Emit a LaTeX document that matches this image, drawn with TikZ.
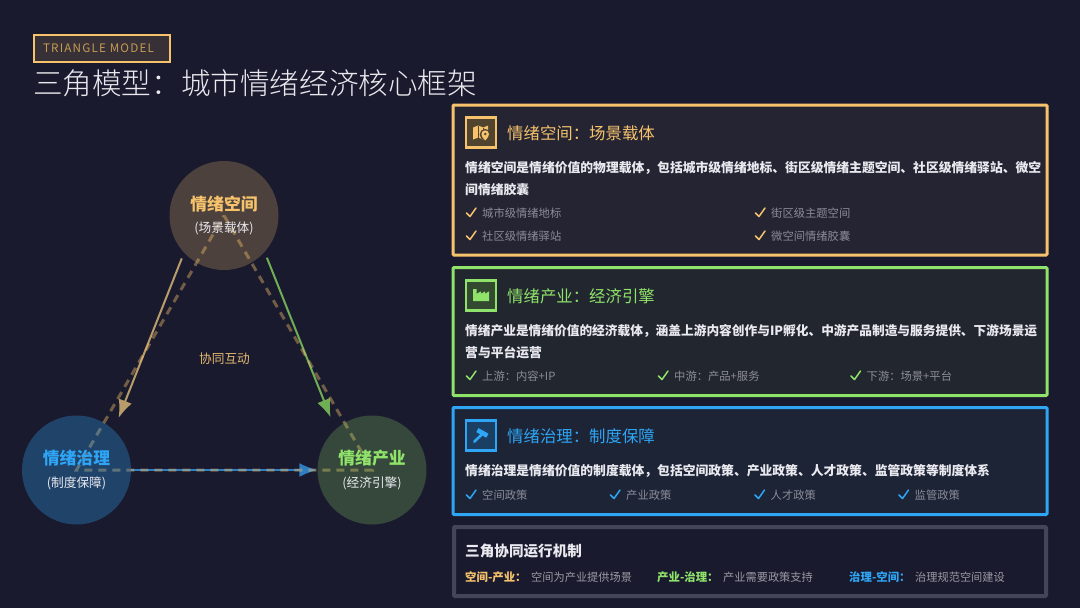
\documentclass[tikz,border=0pt]{standalone}
\usepackage{fontspec}
\usepackage{xcolor}
\usepackage{tikz}
\usetikzlibrary{arrows.meta,backgrounds}
\setmainfont{Noto Sans CJK SC}
\newfontfamily\finafont{Noto Sans CJK SC Light}
\newfontfamily\etiquetafont[LetterSpace=10]{Noto Sans CJK SC}
\definecolor{fundo}{HTML}{1A1A2E}
\definecolor{ouro}{HTML}{F6C36C}
\definecolor{verde}{HTML}{8FE36A}
\definecolor{azul}{HTML}{2EA5F5}
\definecolor{cinza}{HTML}{45455A}
\definecolor{corpo}{HTML}{E9E9EF}
\definecolor{item}{HTML}{8C8C98}
\definecolor{mecanismo}{HTML}{9A9AA4}
\definecolor{fundoA}{HTML}{252433}
\definecolor{fundoB}{HTML}{22262F}
\definecolor{fundoC}{HTML}{1C2436}
\definecolor{iconeA}{HTML}{50442F}
\definecolor{iconeB}{HTML}{334A30}
\definecolor{iconeC}{HTML}{1B3F63}
\definecolor{setaA}{HTML}{B89C6A}
\definecolor{setaB}{HTML}{6FAE55}
\definecolor{setaC}{HTML}{2F7FC0}

\begin{document}
\begin{tikzpicture}[
    x=1pt,y=-1pt,
    hub/.style={circle,minimum size=109pt,inner sep=0pt,align=center,text opacity=1},
    seta/.style={-{Latex[length=18pt,width=14pt]},line width=2pt},
    card/.style={draw,rounded corners=1pt},
    icone/.style={draw,line width=2.5pt,minimum size=30pt,inner sep=0pt},
    rotulo/.style={anchor=west,inner sep=0pt},
    titulo/.style={rotulo,font=\fontsize{16.4}{20}\selectfont},
    texto/.style={rotulo,font=\bfseries\fontsize{12.8}{22}\selectfont,text=corpo,align=left},
    itemtxt/.style={rotulo,font=\fontsize{11.3}{14}\selectfont,text=item},
    mectxt/.style={rotulo,font=\fontsize{11.2}{14}\selectfont,text=mecanismo},
    mecnome/.style={rotulo,font=\bfseries\fontsize{11.4}{14}\selectfont},
    marca/.style={line width=1.5pt,line cap=round,line join=round}
]
\useasboundingbox (0,0) rectangle (1080,608);

%------------------------------------------------
% Cabecalho
%------------------------------------------------
\node[draw=ouro,fill=ouro!13!fundo,line width=2pt,minimum width=136pt,minimum height=27pt,inner sep=0pt,
    text=ouro!80!black,font=\etiquetafont\fontsize{11.7}{14}\selectfont] (etiqueta) at (102,48) {\hspace*{-7pt}TRIANGLE MODEL};
\node[rotulo,text=corpo,font=\finafont\fontsize{29.6}{34}\selectfont] (titulo) at (33,83) {三角模型：城市情绪经济核心框架};

%------------------------------------------------
% Triangulo
%------------------------------------------------
\foreach \x/\y/\nome/\cor/\op/\txt/\sub in {
224/215.5/espaco/ouro/.23/情绪空间/(场景载体),
76.5/470/governo/azul/.3/情绪治理/(制度保障),
372/470/industria/verde/.23/情绪产业/(经济引擎)}
{
    \node[hub,fill=\cor,fill opacity=\op] (\nome) at (\x,\y)
    {\textcolor{\cor}{\bfseries\fontsize{16.8}{20}\selectfont \txt}\\[9pt]
     \textcolor{corpo}{\fontsize{12.7}{14}\selectfont \sub}};
}

\begin{scope}[on background layer]
    \fill[fundo] (0,0) rectangle (1080,608);

    % setas
    \draw[seta,draw=setaA,fill=setaA,shorten <=6pt,shorten >=13pt]
    (espaco.223.3) -- (governo.47.2);
    \draw[seta,draw=setaB,fill=setaB,shorten <=6pt,shorten >=13pt]
    (espaco.-42.9) -- (industria.132.3);
    \draw[seta,draw=setaC,fill=setaC]
    (governo.east) -- (industria.west);

    % tracejado
    \draw[ouro,opacity=.4,line width=3pt,dash pattern=on 8pt off 6pt]
    (espaco.center) -- (industria.center) -- (governo.center) -- (espaco.center);
\end{scope}

\node[inner sep=0pt,text=ouro!85!gray,font=\fontsize{12.7}{15}\selectfont] (interacao) at (224.5,359) {协同互动};

%------------------------------------------------
% Cartoes
%------------------------------------------------
\foreach \y/\alt/\larg/\lw/\nome/\cor/\preench in {
180/150/594/3/cartaoA/ouro/fundoA,
331.5/128/594/3/cartaoB/verde/fundoB,
461/107/594/3/cartaoC/azul/fundoC,
561.5/69/592/4/cartaoD/cinza/fundo}
{
    \node[card,draw=\cor,fill=\preench,line width=\lw pt,minimum width=\larg pt,minimum height=\alt pt] (\nome) at (750,\y) {};
}

% icones e titulos
\foreach \y/\nome/\cor/\preench/\txt in {
132.5/A/ouro/iconeA/情绪空间：场景载体,
295.5/B/verde/iconeB/情绪产业：经济引擎,
435.5/C/azul/iconeC/情绪治理：制度保障}
{
    \node[icone,draw=\cor,fill=\preench] (icone\nome) at (481.2,\y) {};
    \node[titulo,text=\cor] (titulo\nome) at (507,\y+1.2) {\txt};
}

% mapa
\begin{scope}[shift={(iconeA.center)}]
    \fill[ouro] (-8,-5) -- (-3,-7) -- (2,-5) -- (7,-7) -- (7,1) -- (2,7) -- (-3,5) -- (-8,7) -- cycle;
    \draw[iconeA,line width=.8pt] (-3,-7) -- (-3,5) (2,-5) -- (2,1);
    \fill[iconeA] (4,2) circle (5.6);
    \fill[ouro] (4,8) .. controls (1.4,5) and (0.2,3.6) .. (0.2,1.6)
        .. controls (0.2,-3.4) and (7.8,-3.4) .. (7.8,1.6)
        .. controls (7.8,3.6) and (6.6,5) .. (4,8) -- cycle;
    \fill[iconeA] (4,1.5) circle (1.4);
\end{scope}

% fabrica
\begin{scope}[shift={(iconeB.center)}]
    \fill[verde] (-8,5.5) -- (-8,-6.5) -- (-4.5,-6.5) -- (-4.5,-1.8) -- (0,-4.2) -- (0,-1.8)
        -- (4,-4.2) -- (4,-1.8) -- (8,-4.2) -- (8,5.5) -- cycle;
\end{scope}

% martelo
\begin{scope}[shift={(iconeC.center)}]
    \draw[azul,line width=4.6pt] (-3.8,-5.4) -- (6.2,0.2);
    \draw[azul,line width=2.6pt,line cap=round] (1.7,-2) -- (-7,6.2);
\end{scope}

% textos
\node[texto] (textoA) at (465,178.5) {情绪空间是情绪价值的物理载体，包括城市级情绪地标、街区级情绪主题空间、社区级情绪驿站、微空\\间情绪胶囊};
\node[texto] (textoB) at (465,342) {\fontsize{12.7}{22}\selectfont 情绪产业是情绪价值的经济载体，涵盖上游内容创作与IP孵化、中游产品制造与服务提供、下游场景运\\营与平台运营};
\node[texto] (textoC) at (465,470.5) {情绪治理是情绪价值的制度载体，包括空间政策、产业政策、人才政策、监管政策等制度体系};

%------------------------------------------------
% Itens
%------------------------------------------------
\foreach \x/\y/\n/\cor/\txt in {
466.5/213/a/ouro/城市级情绪地标,
755.5/213/b/ouro/街区级主题空间,
466.5/236/c/ouro/社区级情绪驿站,
755.5/236/d/ouro/微空间情绪胶囊,
466.5/376/e/verde/上游：内容+IP,
658.5/376/f/verde/中游：产品+服务,
851/376/g/verde/下游：场景+平台,
466.5/495/h/azul/空间政策,
610.5/495/i/azul/产业政策,
755/495/j/azul/人才政策,
899/495/k/azul/监管政策}
{
    \node[itemtxt] (item\n) at (\x+15.5,\y) {\txt};
    \draw[marca,\cor] (\x,\y) -- ++(3.5,3.5) -- ++(6,-8.5);
}

%------------------------------------------------
% Mecanismo
%------------------------------------------------
\node[rotulo,text=corpo,font=\bfseries\fontsize{14.6}{18}\selectfont] (mecanismo) at (465,551) {三角协同运行机制};
\foreach \x/\n/\cor/\nomeA/\txt in {
465/a/ouro/空间-产业：/空间为产业提供场景,
657/b/verde/产业-治理：/产业需要政策支持,
849/c/azul/治理-空间：/治理规范空间建设}
{
    \node[mecnome,text=\cor] (mecnome\n) at (\x,577) {\nomeA};
    \node[mectxt] (mectxt\n) at (\x+66,577) {\txt};
}
\end{tikzpicture}
\end{document}
